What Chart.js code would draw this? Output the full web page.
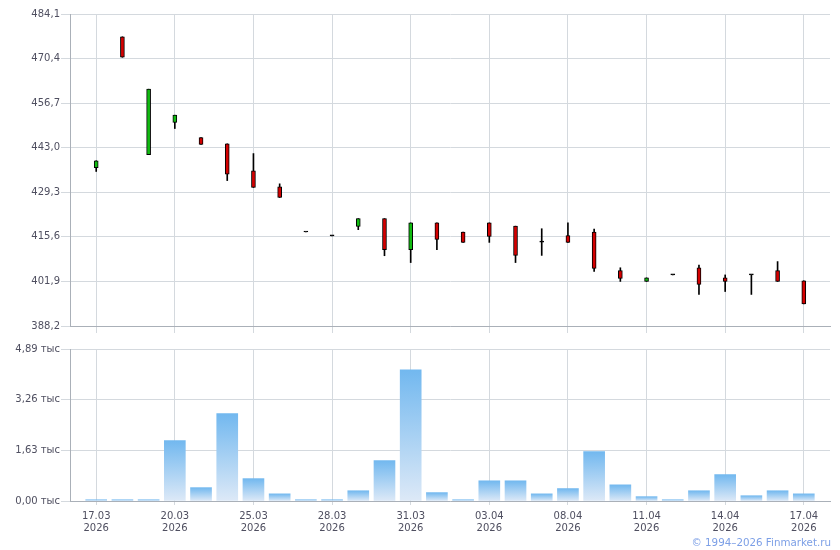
<!DOCTYPE html>
<html>
<head>
<meta charset="utf-8">
<script src="https://cdn.jsdelivr.net/npm/chart.js@4.4.1/dist/chart.umd.min.js"></script>
<style>
  body { margin: 0; background: #fff; }
  #wrap { position: relative; width: 840px; height: 550px; }
  #priceBox { position: absolute; left: 0; top: 0; }
  #volBox { position: absolute; left: 0; top: 340px; }
  #copy {
    position: absolute; right: 9px; top: 536px;
    font: 10.3px "DejaVu Sans", Verdana, sans-serif; color: #7c9fe6;
  }
</style>
</head>
<body>
<div id="wrap">
  <div id="priceBox"><canvas id="priceChart" width="840" height="340"></canvas></div>
  <div id="volBox"><canvas id="volChart" width="840" height="210"></canvas></div>
  <div id="copy">© 1994–2026 Finmarket.ru</div>
</div>
<script>
const dates = [
  "17.03","18.03","19.03","20.03","23.03","24.03","25.03","26.03","27.03","28.03",
  "29.03","30.03","31.03","01.04","02.04","03.04","06.04","07.04","08.04","09.04",
  "10.04","11.04","12.04","13.04","14.04","15.04","16.04","17.04"
];
const year = "2026";

const open  = [436.9,477.1,440.9,450.8,446.1,444.2,435.9,431.0,417.1,415.9,418.8,421.2,411.7,419.9,417.1,419.9,418.9,414.0,416.0,417.1,405.2,401.9,403.9,406.1,403.0,403.9,405.2,402.1];
const high  = [439.0,477.1,461.0,453.0,446.1,444.2,441.2,431.9,417.1,415.9,421.2,421.2,419.9,419.9,417.1,419.9,418.9,418.1,419.9,418.0,406.1,403.0,403.9,406.9,403.9,403.9,408.0,402.1];
const low   = [435.7,470.8,440.9,448.9,444.0,432.9,430.8,427.7,417.1,415.9,417.8,409.8,407.7,411.7,413.9,413.9,407.7,409.9,413.9,405.0,401.9,401.9,403.9,397.9,398.8,397.9,401.9,395.0];
const close = [439.0,470.8,461.0,453.0,444.0,434.9,430.8,427.7,417.1,415.9,421.2,411.7,419.9,414.8,413.9,415.7,409.9,414.0,413.9,405.9,402.8,403.0,403.9,401.0,401.9,403.9,401.9,395.0];

// volume, thousands
const volume = [0.04,0.04,0.04,1.94,0.43,2.81,0.72,0.23,0.04,0.04,0.33,1.30,4.22,0.27,0.04,0.65,0.65,0.23,0.40,1.59,0.52,0.14,0.04,0.33,0.85,0.17,0.33,0.23];

const priceTicks = [388.2,401.9,415.6,429.3,443.0,456.7,470.4,484.1];
const volTicks = [0, 1.63, 3.26, 4.89];
const dateTicks = [0,3,6,9,12,15,18,21,24,27];

const font = { family: "DejaVu Sans", size: 10 };
const textColor = "#4f4f60";
const gridColor = "#d4d9de";
const axisColor = "#aab0b8";

function comma(v, d){ return v.toFixed(d).replace(".", ","); }

function xScale(showLabels, tickLen, height){
  return {
    type: "linear", min: -1, max: 28, offset: false,
    afterBuildTicks: s => { s.ticks = dateTicks.map(v => ({ value: v })); },
    afterFit: s => { s.height = height; },
    ticks: {
      autoSkip: false, maxRotation: 0, font, color: textColor, padding: 5,
      callback: v => showLabels ? [dates[v], year] : ""
    },
    grid: { color: gridColor, tickLength: tickLen, offset: false },
    border: { color: axisColor }
  };
}

const candleColor = c => {
  const i = c.dataIndex;
  if (close[i] > open[i]) return "#11bb11";
  if (close[i] < open[i]) return "#d40000";
  return "#000";
};

new Chart(document.getElementById("priceChart"), {
  type: "bar",
  data: {
    datasets: [
      {
        data: dates.map((d, i) => ({ x: i, y: [open[i], close[i]] })),
        backgroundColor: candleColor,
        borderColor: "#000",
        borderWidth: 1,
        borderSkipped: false,
        barThickness: 4,
        minBarLength: 1,
        grouped: false,
        order: 0
      },
      {
        data: dates.map((d, i) => ({ x: i, y: [low[i], high[i]] })),
        backgroundColor: "#000",
        borderWidth: 0,
        barThickness: 1,
        grouped: false,
        order: 1
      }
    ]
  },
  options: {
    responsive: false,
    animation: false,
    layout: { padding: { top: 14, right: 10, left: 0, bottom: 0 } },
    plugins: { legend: { display: false }, tooltip: { enabled: false } },
    scales: {
      x: xScale(false, 7, 14),
      y: {
        min: 388.2, max: 484.1,
        afterBuildTicks: s => { s.ticks = priceTicks.map(v => ({ value: v })); },
        afterFit: s => { s.width = 70; },
        ticks: { font, color: textColor, padding: 1, callback: v => comma(v, 1) },
        grid: { color: gridColor, tickLength: 9 },
        border: { color: axisColor }
      }
    }
  }
});

new Chart(document.getElementById("volChart"), {
  type: "bar",
  data: {
    datasets: [{
      data: volume.map((v, i) => ({ x: i, y: v })),
      backgroundColor: c => {
        const chart = c.chart;
        const area = chart.chartArea;
        if (!area || c.type !== "data") return "#9ccaf3";
        const top = chart.scales.y.getPixelForValue(c.parsed.y);
        const g = chart.ctx.createLinearGradient(0, top, 0, area.bottom);
        g.addColorStop(0, "#72b8ef");
        g.addColorStop(1, "#dde9f7");
        return g;
      },
      borderWidth: 0,
      barThickness: 21,
      grouped: false
    }]
  },
  options: {
    responsive: false,
    animation: false,
    layout: { padding: { top: 9, right: 10, left: 0, bottom: 0 } },
    plugins: { legend: { display: false }, tooltip: { enabled: false } },
    scales: {
      x: xScale(true, 4, 49),
      y: {
        min: 0, max: 4.89,
        afterBuildTicks: s => { s.ticks = volTicks.map(v => ({ value: v })); },
        afterFit: s => { s.width = 70; },
        ticks: { font, color: textColor, padding: 1, callback: v => comma(v, 2) + " тыс" },
        grid: { color: gridColor, tickLength: 9 },
        border: { color: axisColor }
      }
    }
  }
});
</script>
</body>
</html>
